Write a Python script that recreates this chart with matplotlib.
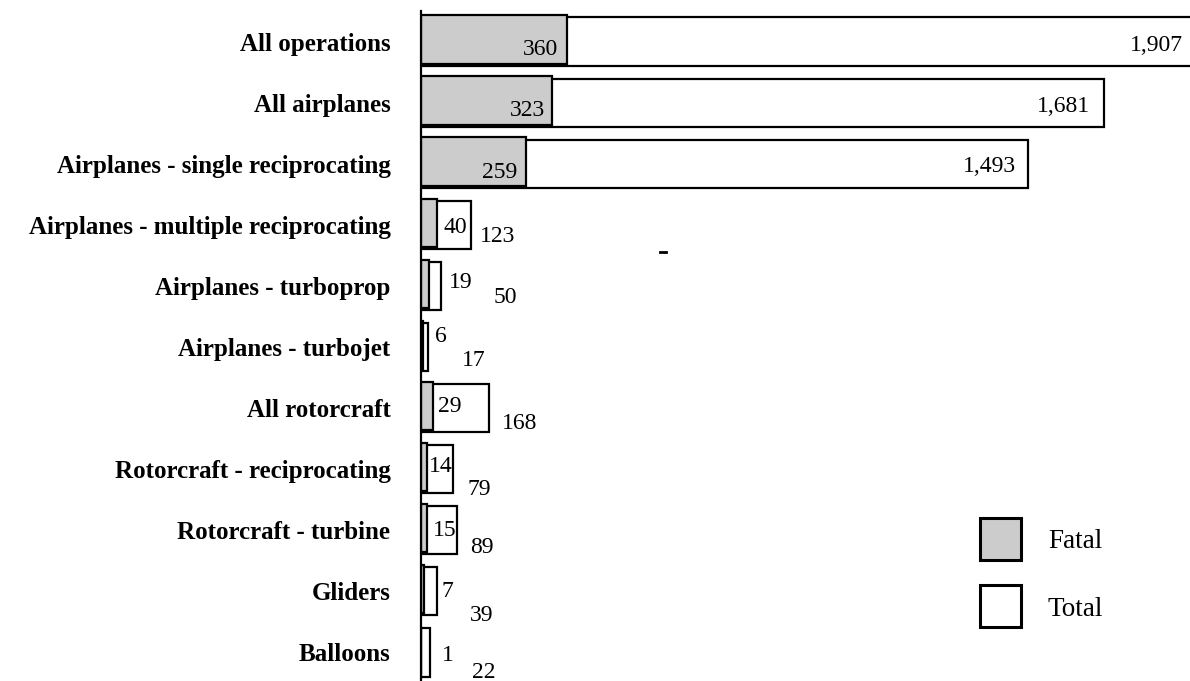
import matplotlib
matplotlib.use("Agg")
import matplotlib.pyplot as plt
from matplotlib.patches import Rectangle
from matplotlib.lines import Line2D

categories = ["All operations", "All airplanes", "Airplanes - single reciprocating",
              "Airplanes - multiple reciprocating", "Airplanes - turboprop",
              "Airplanes - turbojet", "All rotorcraft", "Rotorcraft - reciprocating",
              "Rotorcraft - turbine", "Gliders", "Balloons"]
fatal = [360, 323, 259, 40, 19, 6, 29, 14, 15, 7, 1]
total = [1907, 1681, 1493, 123, 50, 17, 168, 79, 89, 39, 22]
series_names = ["Fatal", "Total"]
series_colors = ["#cccccc", "white"]

# label placement offsets in pixels (dx, dy downwards) relative to bar end / bar centre
fatal_off = [(-9, 8), (-7, 8), (-9, 9), (6, 3), (20, -3), (12, -11), (5, -2),
             (2, -3), (6, 0), (18, 0), (21, 3)]
total_off = [(-13, 4), (-14, 4), (-12, 3), (9, 12), (52, 12), (34, 14), (13, 15),
             (14, 20), (13, 17), (33, 24), (42, 20)]

plt.rcParams['font.family'] = ['Liberation Serif', 'DejaVu Serif']

W, H = 1190, 681
fig = plt.figure(figsize=(W / 100, H / 100), dpi=100)
x0, x1 = 421, 1190
ytop, ybot = 11, 683
ax = fig.add_axes([x0 / W, 1 - ybot / H, (x1 - x0) / W, (ybot - ytop) / H])

n = len(categories)
ypos = list(range(n))
ax.barh(ypos, total, height=0.79, color=series_colors[1], edgecolor="black", linewidth=1.6, zorder=2)
ax.barh([y - 0.035 for y in ypos], fatal, height=0.79, color=series_colors[0], edgecolor="black",
        linewidth=1.6, zorder=3)

ax.set_xlim(0, (x1 - x0) / 0.4063)
ax.set_ylim(n - 0.5, -0.5)

px = 0.72  # points per pixel
fs_num = 17
for i in range(n):
    for val, (dx, dy) in ((fatal[i], fatal_off[i]), (total[i], total_off[i])):
        ha = "right" if dx < 0 else "left"
        ax.annotate(f"{val:,}", xy=(val, i), xytext=(dx * px, -dy * px),
                    textcoords="offset points", ha=ha, va="center",
                    fontsize=fs_num, zorder=5, annotation_clip=False)

ax.set_yticks(ypos)
ax.set_yticklabels(categories, fontsize=18, fontweight="bold")
ax.tick_params(axis="y", length=0, pad=22)
ax.set_xticks([])
for s in ["top", "right", "bottom"]:
    ax.spines[s].set_visible(False)
ax.spines["left"].set_linewidth(1.6)
ax.spines["left"].set_zorder(6)

# legend drawn manually in figure pixel coordinates
leg_boxes = [(980, 518), (980, 585)]
for (bx, by), name, col in zip(leg_boxes, series_names, series_colors):
    fig.add_artist(Rectangle((bx / W, 1 - (by + 42) / H), 41 / W, 42 / H,
                             transform=fig.transFigure, facecolor=col,
                             edgecolor="black", linewidth=2.2))
    fig.text(1048 / W, 1 - (by + 24) / H, name, fontsize=19.5, ha="left", va="center")

# small stray mark present in the original
fig.add_artist(Line2D([660 / W, 666 / W], [1 - 252 / H, 1 - 252 / H],
                      transform=fig.transFigure, color="black", linewidth=2))

fig.savefig("out.png", dpi=100)
